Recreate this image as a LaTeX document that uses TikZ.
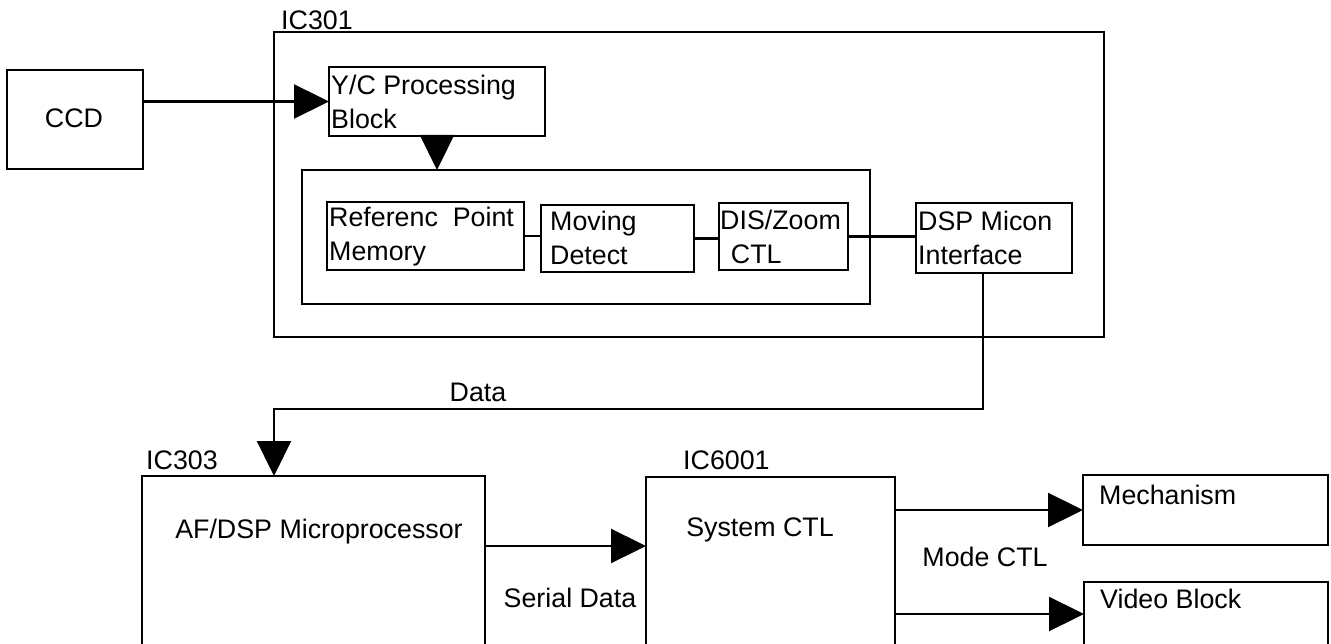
\documentclass[tikz,border=0pt]{standalone}
\usepackage{fontspec}
\setmainfont{Liberation Sans}
\usetikzlibrary{arrows.meta}
\tikzset{
  bigbox/.style={draw, line width=2.6pt, inner sep=0pt, outer sep=0pt, anchor=north west},
  smallbox/.style={draw, line width=2.3pt, inner sep=0pt, outer sep=0pt, anchor=north west},
  txt/.style={inner sep=0pt, align=left, font=\fontsize{26.8}{34}\selectfont},
  wire/.style={line width=2.3pt},
  arr/.style={line width=2.3pt, -{Triangle[length=35pt,width=34pt]}},
}
\begin{document}
\begin{tikzpicture}[x=1pt,y=-1pt]
\useasboundingbox (0,0) rectangle (1331,644);
\clip (0,0) rectangle (1331,644);
% boxes
\node[bigbox, minimum width=830pt, minimum height=305pt] (ic301) at (274,32) {};
\node[bigbox, minimum width=136pt, minimum height=99pt] (ccd) at (7,70) {};
\node[smallbox, minimum width=216pt, minimum height=69pt] (yc) at (329,67) {};
\node[smallbox, minimum width=568pt, minimum height=134pt] (inner) at (302,170) {};
\node[smallbox, minimum width=197pt, minimum height=68pt] (ref) at (327,202) {};
\node[smallbox, minimum width=153pt, minimum height=67pt] (mov) at (541,205) {};
\node[smallbox, minimum width=129pt, minimum height=67pt] (dis) at (719,203) {};
\node[smallbox, minimum width=156pt, minimum height=70pt] (dsp) at (916,203) {};
\node[bigbox, minimum width=343pt, minimum height=200pt] (ic303) at (142,476) {};
\node[bigbox, minimum width=249pt, minimum height=200pt] (ic6001) at (646,477) {};
\node[smallbox, minimum width=245pt, minimum height=70pt] (mech) at (1083,475) {};
\node[smallbox, minimum width=244pt, minimum height=100pt] (video) at (1084,582) {};
% texts
\node[txt, anchor=west] (t301) at (281,20) {IC301};
\node[txt] (tccd) at (74,118) {CCD};
\node[txt, anchor=west] (tyc) at (331,102) {Y/C Processing\\Block};
\node[txt, anchor=west] (tref) at (329,237) {Referenc~ Point\\Memory};
\node[txt, anchor=west] (tmov) at (550,238) {Moving\\Detect};
\node[txt, anchor=west] (tdis) at (720,237) {DIS/Zoom\\\hspace{0.4em}CTL};
\node[txt, anchor=west] (tdsp) at (918,238) {DSP Micon\\Interface};
\node[txt] (tdata) at (478,392) {Data};
\node[txt, anchor=west] (t303) at (146,460) {IC303};
\node[txt] (taf) at (319,532) {AF/DSP Microprocessor};
\node[txt] (tser) at (570,598) {Serial Data};
\node[txt, anchor=west] (t6001) at (683,460) {IC6001};
\node[txt] (tsys) at (760,530) {System CTL};
\node[txt] (tmode) at (985,557) {Mode CTL};
\node[txt, anchor=west] (tmech) at (1099,495) {Mechanism};
\node[txt, anchor=west] (tvid) at (1100,599) {Video Block};
% helper coordinates
\coordinate (bend) at (983,409);
\coordinate (datain) at (274,476);
\coordinate (serin) at (646,546);
\coordinate (vidin) at (1084,614);
% connectors
\draw[arr] (yc.west -| ccd.east) -- (yc.west);
\draw[arr] (yc.south) -- (yc.south |- inner.north);
\draw[wire] (ref.east) -- (ref.east -| mov.west);
\draw[wire] (mov.east) -- (mov.east -| dis.west);
\draw[wire] (dis.east) -- (dis.east -| dsp.west);
\draw[arr] (dsp.south -| bend) -- (bend) -- (bend -| datain) -- (datain);
\draw[arr] (serin -| ic303.east) -- (serin);
\draw[arr] (mech.west -| ic6001.east) -- (mech.west);
\draw[arr] (vidin -| ic6001.east) -- (vidin);
\end{tikzpicture}
\end{document}
